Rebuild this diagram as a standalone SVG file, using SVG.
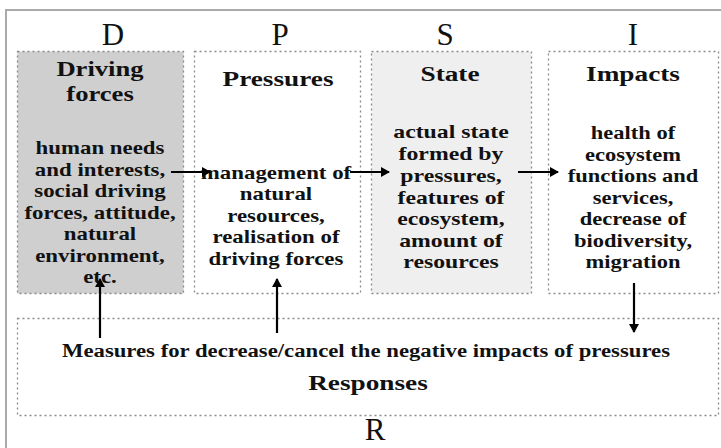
<svg xmlns="http://www.w3.org/2000/svg" width="721" height="448" viewBox="0 0 721 448">
<style>
.box{stroke:#8a8a8a;stroke-width:1.3;stroke-dasharray:2 3}
.let{font-family:"Liberation Serif",serif;font-size:31px;fill:#111;text-anchor:middle}
.ttl{font-family:"Liberation Serif",serif;font-weight:bold;font-size:22px;fill:#111;text-anchor:middle}
.txt{font-family:"Liberation Serif",serif;font-weight:bold;font-size:18px;fill:#111;text-anchor:middle}
.arr{stroke:#000;stroke-width:2.2;fill:none;marker-end:url(#ah)}
</style>
<defs>
<marker id="ah" markerWidth="10" markerHeight="10" refX="8" refY="5" orient="auto" markerUnits="userSpaceOnUse">
<path d="M0,0 L9,5 L0,10 z" fill="#000"/>
</marker>
</defs>
<rect width="721" height="448" fill="#fff"/>
<path d="M6,448 V10 H721" fill="none" stroke="#aaa" stroke-width="2"/>
<g id="node-D">
<rect class="box" x="17.5" y="51.5" width="166" height="242" fill="#cfcfcf"/>
<text class="let" x="113" y="45">D</text>
<g transform="translate(100,0) scale(1.21,1)">
<text class="ttl" x="0" y="76">Driving</text>
<text class="ttl" x="0" y="101">forces</text>
</g>
<g transform="translate(100,0) scale(1.27,1)">
<text class="txt"><tspan x="0" y="154">human needs</tspan><tspan x="0" y="176">and interests,</tspan><tspan x="0" y="197">social driving</tspan><tspan x="0" y="219">forces, attitude,</tspan><tspan x="0" y="240">natural</tspan><tspan x="0" y="262">environment,</tspan><tspan x="0" y="283">etc.</tspan></text>
</g>
</g>
<g id="node-P">
<rect class="box" x="194.5" y="51.5" width="166" height="242" fill="#fff"/>
<text class="let" x="280" y="45">P</text>
<g transform="translate(278,0) scale(1.24,1)">
<text class="ttl" x="0" y="86">Pressures</text>
</g>
<g transform="translate(276,0) scale(1.27,1)">
<text class="txt"><tspan x="0" y="179">management of</tspan><tspan x="0" y="200">natural</tspan><tspan x="0" y="222">resources,</tspan><tspan x="0" y="243">realisation of</tspan><tspan x="0" y="265">driving forces</tspan></text>
</g>
</g>
<g id="node-S">
<rect class="box" x="371.5" y="51.5" width="160" height="242" fill="#efefef"/>
<text class="let" x="445" y="45">S</text>
<g transform="translate(450,0) scale(1.24,1)">
<text class="ttl" x="0" y="81">State</text>
</g>
<g transform="translate(451,0) scale(1.25,1)">
<text class="txt" style="font-size:19px"><tspan x="0" y="138">actual state</tspan><tspan x="0" y="160">formed by</tspan><tspan x="0" y="182">pressures,</tspan><tspan x="0" y="204">features of</tspan><tspan x="0" y="225">ecosystem,</tspan><tspan x="0" y="247">amount of</tspan><tspan x="0" y="268">resources</tspan></text>
</g>
</g>
<g id="node-I">
<rect class="box" x="548.5" y="51.5" width="170" height="242" fill="#fff"/>
<text class="let" x="633" y="45">I</text>
<g transform="translate(633,0) scale(1.24,1)">
<text class="ttl" x="0" y="81">Impacts</text>
</g>
<g transform="translate(633,0) scale(1.25,1)">
<text class="txt"><tspan x="0" y="139">health of</tspan><tspan x="0" y="161">ecosystem</tspan><tspan x="0" y="182">functions and</tspan><tspan x="0" y="204">services,</tspan><tspan x="0" y="225">decrease of</tspan><tspan x="0" y="247">biodiversity,</tspan><tspan x="0" y="268">migration</tspan></text>
</g>
</g>
<g id="node-R">
<rect class="box" x="17.5" y="318.5" width="701" height="97" fill="#fff"/>
<text class="txt" x="366" y="357" textLength="608" lengthAdjust="spacingAndGlyphs">Measures for decrease/cancel the negative impacts of pressures</text>
<g transform="translate(368,0) scale(1.24,1)">
<text class="ttl" x="0" y="390">Responses</text>
</g>
<text class="let" x="375" y="440">R</text>
</g>
<g id="connectors">
<line class="arr" x1="171" y1="172" x2="210" y2="172"/>
<line class="arr" x1="350" y1="172" x2="389" y2="172"/>
<line class="arr" x1="518" y1="172" x2="558" y2="172"/>
<line class="arr" x1="100" y1="338" x2="100" y2="279"/>
<line class="arr" x1="277" y1="333" x2="277" y2="279"/>
<line class="arr" x1="634" y1="283" x2="634" y2="332"/>
</g>
</svg>
